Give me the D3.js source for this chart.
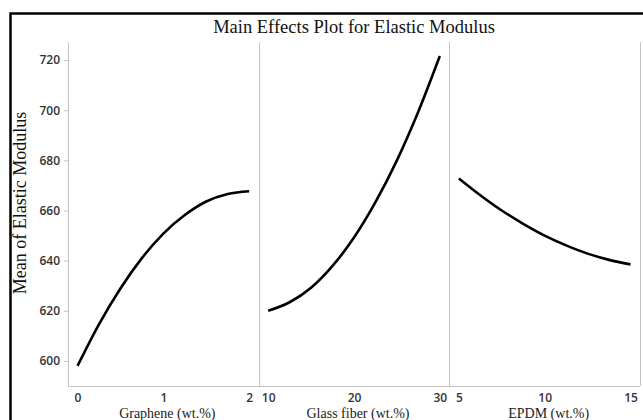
<!DOCTYPE html>
<html>
<head>
<meta charset="utf-8">
<script src="https://cdn.jsdelivr.net/npm/d3@7"></script>
<style>
  body { margin: 0; background: #fff; }
  svg { display: block; }
</style>
</head>
<body>
<svg id="chart" width="643" height="420"></svg>
<script>
// values
const factors = ["Graphene (wt.%)", "Glass fiber (wt.%)", "EPDM (wt.%)"];
const grapheneX = [0, 0.25, 0.5, 0.75, 1, 1.25, 1.5, 1.75, 2];
const grapheneY = [598, 614.6, 628.9, 641, 650.8, 658.2, 663.6, 666.6, 667.7];
const glassX = [10, 12.5, 15, 17.5, 20, 22.5, 25, 27.5, 30];
const glassY = [620, 623.4, 629.2, 637.9, 649.2, 663.3, 680, 699.5, 721.6];
const epdmX = [5, 6.25, 7.5, 8.75, 10, 11.25, 12.5, 13.75, 15];
const epdmY = [672.8, 666.1, 660, 654.7, 650, 646.1, 642.8, 640.3, 638.5];
const xTicks = [[0, 1, 2], [10, 20, 30], [5, 10, 15]];
const yTicks = [600, 620, 640, 660, 680, 700, 720];

const panels = [
  { name: factors[0], xs: grapheneX, ys: grapheneY, ticks: xTicks[0] },
  { name: factors[1], xs: glassX, ys: glassY, ticks: xTicks[1] },
  { name: factors[2], xs: epdmX, ys: epdmY, ticks: xTicks[2] }
];

const svg = d3.select("#chart");
const plot = { left: 68, right: 640, top: 42, bottom: 386 };
const panelW = (plot.right - plot.left) / panels.length;
const pad = 9.5;
const gridColor = "#c4c4c4";
const serif = "'Liberation Serif', 'DejaVu Serif', serif";

// outer frame
svg.append("rect")
  .attr("x", 10.5).attr("y", 13.5)
  .attr("width", 700).attr("height", 500)
  .attr("fill", "none")
  .attr("stroke", "#000")
  .attr("stroke-width", 2.5);

svg.append("text")
  .attr("x", 354)
  .attr("y", 33)
  .attr("text-anchor", "middle")
  .attr("font-family", serif)
  .attr("font-size", 18.5)
  .attr("fill", "#111")
  .text("Main Effects Plot for Elastic Modulus");

svg.append("text")
  .attr("transform", "translate(26,203) rotate(-90)")
  .attr("text-anchor", "middle")
  .attr("font-family", serif)
  .attr("font-size", 18)
  .attr("fill", "#111")
  .text("Mean of Elastic Modulus");

const y = d3.scaleLinear()
  .domain([590, 727.2])
  .range([plot.bottom, plot.top]);

// y axis
const yAxis = svg.append("g")
  .attr("transform", `translate(${plot.left},0)`)
  .call(d3.axisLeft(y).tickValues(yTicks).tickSize(4).tickPadding(4));
yAxis.select(".domain").remove();
yAxis.selectAll(".tick line").attr("stroke", gridColor);
yAxis.selectAll(".tick text")
  .style("font-family", "'Open Sans', sans-serif")
  .style("font-size", "12px")
  .style("font-weight", "600")
  .style("fill", "#333");

// bottom line
svg.append("line")
  .attr("x1", plot.left).attr("x2", plot.right)
  .attr("y1", plot.bottom + 0.5).attr("y2", plot.bottom + 0.5)
  .attr("stroke", gridColor);

// vertical panel borders
d3.range(panels.length + 1).forEach(i => {
  const xx = Math.round(plot.left + i * panelW) + 0.5;
  svg.append("line")
    .attr("x1", xx).attr("x2", xx)
    .attr("y1", plot.top).attr("y2", plot.bottom)
    .attr("stroke", gridColor);
});

const line = d3.line().curve(d3.curveMonotoneX);

panels.forEach((p, i) => {
  const x0 = plot.left + i * panelW;
  const x1 = x0 + panelW;
  const x = d3.scaleLinear()
    .domain(d3.extent(p.xs))
    .range([x0 + pad, x1 - pad]);

  const xAxis = svg.append("g")
    .attr("transform", `translate(0,${plot.bottom})`)
    .call(d3.axisBottom(x).tickValues(p.ticks).tickFormat(d3.format("d"))
      .tickSize(0).tickPadding(7));
  xAxis.select(".domain").remove();
  xAxis.selectAll(".tick text")
    .style("font-family", "'Open Sans', sans-serif")
    .style("font-size", "12px")
    .style("font-weight", "600")
    .style("fill", "#333");

  svg.append("text")
    .attr("x", (x0 + x1) / 2 + 4)
    .attr("y", 418)
    .attr("text-anchor", "middle")
    .attr("font-family", serif)
    .attr("font-size", 14)
    .attr("fill", "#222")
    .text(p.name);

  const pts = p.xs.map((v, j) => [x(v), y(p.ys[j])]);
  svg.append("path")
    .attr("d", line(pts))
    .attr("fill", "none")
    .attr("stroke", "#000")
    .attr("stroke-width", 2.6);
});
</script>
</body>
</html>
